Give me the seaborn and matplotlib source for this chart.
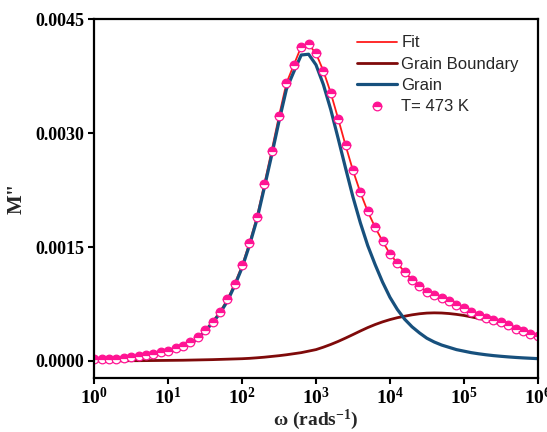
import numpy as np
import pandas as pd
import matplotlib
matplotlib.use("Agg")
import matplotlib.pyplot as plt
import seaborn as sns
from matplotlib.ticker import FixedLocator, FuncFormatter, NullLocator

# ---- data (omega = 10**(k/10), k = 0..60) ----
log_omega = [k / 10 for k in range(61)]

m_data = [0.000020, 0.000022, 0.000026, 0.000032, 0.000040, 0.000050, 0.000062, 0.000077, 0.000093, 0.000112,
          0.000135, 0.000165, 0.000200, 0.000245, 0.000310, 0.000410, 0.000520, 0.000650, 0.000810, 0.001020,
          0.001260, 0.001560, 0.001900, 0.002330, 0.002770, 0.003230, 0.003660, 0.003900, 0.004140, 0.004170,
          0.004050, 0.003820, 0.003530, 0.003190, 0.002840, 0.002510, 0.002220, 0.001970, 0.001760, 0.001580,
          0.001410, 0.001290, 0.001170, 0.001070, 0.000990, 0.000910, 0.000870, 0.000830, 0.000790, 0.000740,
          0.000700, 0.000650, 0.000610, 0.000570, 0.000540, 0.000510, 0.000470, 0.000420, 0.000390, 0.000350,
          0.000330]

fit_vals = list(m_data)

grain = [0.000018, 0.000020, 0.000024, 0.000029, 0.000037, 0.000046, 0.000058, 0.000072, 0.000087, 0.000105,
         0.000127, 0.000156, 0.000190, 0.000233, 0.000296, 0.000394, 0.000502, 0.000629, 0.000786, 0.000993,
         0.001230, 0.001525, 0.001860, 0.002280, 0.002710, 0.003160, 0.003580, 0.003810, 0.004030, 0.004040,
         0.003900, 0.003640, 0.003310, 0.002930, 0.002540, 0.002160, 0.001820, 0.001520, 0.001270, 0.001040,
         0.000840, 0.000680, 0.000550, 0.000450, 0.000370, 0.000300, 0.000250, 0.000210, 0.000180, 0.000150,
         0.000130, 0.000110, 0.000095, 0.000082, 0.000071, 0.000062, 0.000054, 0.000047, 0.000041, 0.000036,
         0.000031]

grain_boundary = [0.000002, 0.000002, 0.000002, 0.000003, 0.000003, 0.000004, 0.000004, 0.000005, 0.000006, 0.000007,
                  0.000008, 0.000009, 0.000010, 0.000012, 0.000014, 0.000016, 0.000018, 0.000021, 0.000024, 0.000027,
                  0.000030, 0.000035, 0.000042, 0.000050, 0.000060, 0.000070, 0.000082, 0.000096, 0.000110, 0.000130,
                  0.000150, 0.000182, 0.000218, 0.000258, 0.000302, 0.000348, 0.000395, 0.000440, 0.000480, 0.000515,
                  0.000545, 0.000570, 0.000590, 0.000608, 0.000622, 0.000631, 0.000634, 0.000632, 0.000625, 0.000614,
                  0.000600, 0.000581, 0.000561, 0.000540, 0.000514, 0.000486, 0.000456, 0.000425, 0.000393, 0.000361,
                  0.000330]

y_ticks = [0.0, 0.0015, 0.0030, 0.0045]
x_tick_exps = [0, 1, 2, 3, 4, 5, 6]
labels = ["Fit", "Grain Boundary", "Grain", "T= 473 K"]

omega = [10 ** v for v in log_omega]
df = pd.DataFrame({"omega": omega, "data": m_data, "fit": fit_vals,
                   "grain": grain, "gb": grain_boundary})

# ---- style ----
sns.set_style("ticks")
plt.rcParams["font.family"] = ["Liberation Serif", "DejaVu Serif"]
plt.rcParams["mathtext.fontset"] = "custom"
plt.rcParams["mathtext.rm"] = "Liberation Serif:bold"
plt.rcParams["mathtext.bf"] = "Liberation Serif:bold"
plt.rcParams["mathtext.it"] = "Liberation Serif:bold:italic"

fig = plt.figure(figsize=(5.47, 4.32), dpi=100)
ax = fig.add_axes([0.1724, 0.1257, 0.8106, 0.8296])

pink = "#ff1493"
sns.lineplot(data=df, x="omega", y="fit", ax=ax, color="#ff1a1a", linewidth=1.3,
             label=labels[0], sort=False)
sns.lineplot(data=df, x="omega", y="gb", ax=ax, color="#7f0a0a", linewidth=2.0,
             label=labels[1], sort=False)
sns.lineplot(data=df, x="omega", y="grain", ax=ax, color="#17507d", linewidth=2.3,
             label=labels[2], sort=False)
sns.lineplot(data=df, x="omega", y="data", ax=ax, color=pink, linestyle="none",
             marker="o", markersize=6.2, fillstyle="top", markerfacecoloralt="white",
             markeredgecolor=pink, markeredgewidth=0.9, label=labels[3], sort=False)

ax.set_xscale("log")
ax.set_xlim(1, 1e6)
ax.set_ylim(-0.00022, 0.0045)

ax.xaxis.set_major_locator(FixedLocator([10 ** e for e in x_tick_exps]))
ax.xaxis.set_minor_locator(NullLocator())
ax.xaxis.set_major_formatter(FuncFormatter(lambda v, p: r"$\mathbf{10^{%d}}$" % round(np.log10(v))))
ax.yaxis.set_major_locator(FixedLocator(y_ticks))
ax.yaxis.set_minor_locator(NullLocator())
ax.yaxis.set_major_formatter(FuncFormatter(lambda v, p: "%.4f" % v))

ax.tick_params(axis="both", which="major", direction="out", length=4.5, width=1.5,
               colors="black", pad=3)
ax.tick_params(axis="x", labelsize=14, pad=2)
ax.tick_params(axis="y", labelsize=13)
for lab in ax.get_yticklabels():
    lab.set_fontweight("bold")
ax.tick_params(top=False, right=False)
for s in ax.spines.values():
    s.set_visible(True)
    s.set_linewidth(1.6)
    s.set_color("black")

ax.set_xlabel(r"ω (rads$^{\mathbf{-1}}$)", fontsize=14, fontweight="bold", labelpad=0)
ax.set_ylabel('M"', fontsize=15, fontweight="bold", labelpad=6)

leg = ax.legend(loc="upper left", bbox_to_anchor=(0.593, 0.955), frameon=False,
                prop={"family": "Liberation Sans", "size": 12}, handlelength=2.4,
                handletextpad=0.25, labelspacing=0.38, borderpad=0, borderaxespad=0)

fig.savefig("out.png", dpi=100)
